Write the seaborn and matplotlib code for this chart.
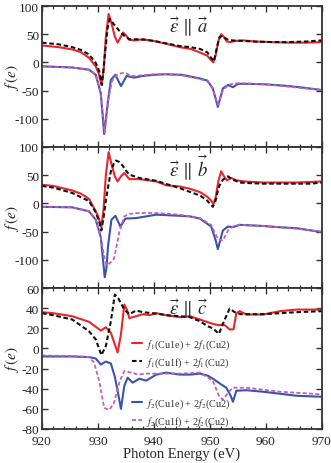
import numpy as np
import pandas as pd
import matplotlib
matplotlib.use("Agg")
import matplotlib.pyplot as plt
from matplotlib.ticker import MultipleLocator
import seaborn as sns

# ---------------- data ----------------
# panel a
a_red_E = [920, 923, 925.4, 927, 928.4, 929.6, 930.2, 930.6, 931.0, 931.4, 931.9, 932.4, 933, 933.5, 934, 934.5, 935, 935.6, 936.5, 938, 940, 942.2, 944.6, 946.5, 948.1, 949.5, 950.2, 950.6, 951.0, 951.5, 952.0, 952.5, 953.0, 953.6, 954.5, 956, 958, 961, 964, 967, 970]
a_red = [30, 27, 23, 18, 8, -7, -22, -40, -15, 45, 86, 70, 46, 35, 44, 53, 48, 40, 39, 41, 38, 33, 27, 24, 18, 12, 4, 0, 12, 38, 50, 45, 37, 36, 38, 39, 37, 36, 35, 35, 36]
a_blk_E = [920, 923, 925.4, 927, 928.4, 929.6, 930.2, 930.7, 931.2, 931.7, 932.1, 932.8, 933.8, 934.7, 935.6, 937, 938.5, 940, 942, 944.6, 946.5, 948.2, 949.5, 950.2, 950.7, 951.2, 951.7, 952.2, 953, 954, 956, 958, 961, 964, 967, 970]
a_blk = [35, 32, 27, 22, 14, -1, -15, -40, 10, 60, 77, 68, 56, 47, 41, 41, 40, 38, 34, 29, 27, 24, 18, 8, 2, 25, 45, 47, 41, 39, 38, 37, 36, 36, 37, 39]
a_blu_E = [920, 925.4, 928.4, 929.6, 930.5, 931.1, 931.8, 932.3, 933.1, 934.1, 935.1, 936.5, 938, 940, 942, 945, 948, 949.5, 950.5, 951.4, 952.3, 953.2, 954.1, 955, 957, 960, 963, 966, 970]
a_blu = [-7, -9, -13, -22, -55, -127, -67, -31, -22, -42, -24, -27, -24, -22, -21, -22, -28, -32, -46, -79, -46, -40, -44, -38, -38, -39, -41, -44, -49]
a_pnk_E = [920, 925.4, 928.4, 929.6, 930.5, 931.2, 931.9, 932.5, 933.5, 934.7, 936, 938, 940, 942, 945, 948, 949.5, 950.5, 951.4, 952.3, 953.2, 954.5, 956, 960, 963, 966, 970]
a_pnk = [-7, -9, -13, -22, -55, -124, -62, -33, -21, -18, -24, -23, -21, -21, -23, -29, -33, -47, -75, -50, -40, -37, -37, -39, -42, -45, -49]

# panel b
b_red_E = [920, 922, 925.4, 927, 928.4, 929.6, 930.1, 930.6, 931.0, 931.4, 931.9, 932.4, 933.0, 933.5, 934.1, 934.7, 935.6, 937.4, 940.4, 942.2, 944.6, 946.4, 948.2, 949.5, 950.2, 950.6, 951.0, 951.5, 952.0, 952.5, 953.0, 953.8, 954.7, 956, 959.5, 962, 965.5, 968, 970]
b_red = [33, 31, 23, 17, 8, -14, -25, -42, -10, 50, 91, 70, 48, 39, 48, 54, 43, 43, 39, 32, 30, 26, 20, 12, 5, -1, 10, 40, 57, 48, 41, 45, 41, 39, 37, 37, 37, 38, 39]
b_blk_E = [920, 922, 925.4, 928.4, 929.6, 930.2, 930.6, 931.0, 931.4, 931.9, 932.3, 932.8, 933.2, 933.7, 934.4, 935.0, 935.6, 937.4, 940.4, 944.6, 948.2, 949.5, 950.5, 951.0, 951.6, 952.3, 953.2, 954.1, 955.3, 957, 959.5, 962, 965.5, 968, 970]
b_blk = [31, 28, 18.5, 4, -16, -32, -48, -25, 5, 35, 57, 70, 76, 74, 67, 58, 51, 45, 40, 27, 14, 5, -6, 5, 30, 42, 48, 42, 37, 36, 35, 35, 35, 35, 37]
b_blu_E = [920, 925.4, 928.4, 929.6, 930.5, 931.2, 931.5, 931.8, 932.4, 933.1, 934.0, 934.9, 936.8, 940.4, 944.6, 946.4, 948.2, 950.2, 951.0, 951.4, 952.3, 953.2, 954.1, 955.3, 959.5, 962, 965.5, 970]
b_blu = [-6, -7, -14, -29, -60, -131, -115, -75, -29, -22, -41, -27, -26, -20, -22, -23, -27, -41, -65, -81, -48, -41, -42, -38, -40, -42, -44, -51]
b_pnk_E = [920, 925.4, 928.4, 929.6, 930.5, 931.2, 931.6, 932.2, 932.9, 933.8, 934.7, 935.6, 937.4, 940.4, 944.6, 948.2, 950.2, 951.0, 951.5, 952.3, 953.2, 954.1, 955.3, 959.5, 962, 965.5, 970]
b_pnk = [-6, -7, -14, -29, -60, -100, -110, -105, -97, -51, -23, -18.5, -17, -17, -20, -26, -38, -55, -64, -66, -48, -41, -38, -40, -42, -45, -50]

# panel c
c_red_E = [920, 922, 925.4, 928.4, 930.5, 931.4, 932.3, 933.0, 933.5, 934.1, 934.7, 935.2, 935.6, 936.8, 938.0, 939.2, 940.4, 942.2, 944.6, 946.4, 948.2, 950.5, 951.6, 952.3, 952.9, 953.5, 954.2, 954.7, 955.3, 956.5, 959.5, 962.5, 965.5, 970]
c_red = [36, 35, 32, 26.4, 17.8, 21, 15.5, 4, -4, 14, 43.5, 38, 30, 32, 34, 33, 35, 33, 31, 32, 28.7, 24.4, 23, 24, 22, 18.8, 19, 35, 37, 33.7, 33.7, 37, 38.6, 38.6]
c_blk_E = [920, 922, 925.4, 928.4, 929.6, 930.6, 931.4, 932.3, 933.0, 933.6, 934.7, 935.6, 936.8, 938, 940.4, 942.2, 944.6, 946.4, 948.2, 949.6, 950.5, 951.6, 952.5, 953.5, 954.4, 955.5, 957, 959.5, 962.5, 965.5, 970]
c_blk = [35, 33, 28.7, 17, 9, -6.6, 2.3, 27, 53.5, 50, 38.6, 34, 37.6, 36, 34.6, 33, 32, 31, 27, 22, 20, 14.5, 27, 39.6, 36, 34, 34, 34, 35, 36, 37]
c_blu_E = [920, 925.4, 928.4, 929.6, 930.5, 931.4, 932.3, 933.0, 933.5, 934.1, 934.7, 935.3, 936.2, 937.4, 938.6, 940.4, 942.2, 944.6, 946.4, 948.2, 949.6, 950.5, 951.8, 952.9, 953.7, 954.1, 954.7, 956.5, 959.5, 962.5, 965.5, 970]
c_blu = [-8, -8, -8.6, -10, -16, -13, -15, -28, -42, -60, -37, -29, -34, -30, -32, -26, -24, -26, -26, -25, -27, -30, -35, -39, -47, -53, -42, -41.5, -43, -45, -47, -48]
c_pnk_E = [920, 925.4, 928.4, 929.3, 930.2, 931.1, 932.0, 932.8, 933.9, 934.7, 935.9, 937.1, 938.6, 940.4, 944.6, 948.2, 950.5, 951.6, 952.3, 953.2, 954.1, 956.5, 959.5, 962.5, 965.5, 970]
c_pnk = [-7, -7.5, -8.6, -14, -32, -59, -61, -55, -32, -22.5, -24, -26, -25, -25, -25, -24, -32, -47, -51, -44, -39, -39, -41, -43, -44, -45.6]

titles = [r"$\vec{\epsilon}\,\parallel\,\vec{a}$", r"$\vec{\epsilon}\,\parallel\,\vec{b}$", r"$\vec{\epsilon}\,\parallel\,\vec{c}$"]
labels = [r"$f_1$(Cu1e) + 2$f_1$(Cu2)", r"$f_1$(Cu1f) + 2$f_1$(Cu2)",
          r"$f_2$(Cu1e) + 2$f_2$(Cu2)", r"$f_2$(Cu1f) + 2$f_2$(Cu2)"]
ylims = [(-150, 100), (-150, 100), (-80, 60)]
yticks = [[-100, -50, 0, 50, 100], [-100, -50, 0, 50, 100], [-80, -60, -40, -20, 0, 20, 40, 60]]

panels = [
    [(a_red_E, a_red), (a_blk_E, a_blk), (a_blu_E, a_blu), (a_pnk_E, a_pnk)],
    [(b_red_E, b_red), (b_blk_E, b_blk), (b_blu_E, b_blu), (b_pnk_E, b_pnk)],
    [(c_red_E, c_red), (c_blk_E, c_blk), (c_blu_E, c_blu), (c_pnk_E, c_pnk)],
]

# ---------------- style ----------------
sns.set_style("ticks")
plt.rcParams.update({
    "font.family": ["Liberation Serif", "DejaVu Serif"],
    "mathtext.fontset": "stix",
    "axes.unicode_minus": False,
    "xtick.direction": "in", "ytick.direction": "in",
    "xtick.top": True, "ytick.right": True,
    "axes.edgecolor": "#333333", "axes.linewidth": 1.3,
    "xtick.color": "#333333", "ytick.color": "#333333",
    "xtick.labelcolor": "#222222", "ytick.labelcolor": "#222222",
})

colors = ["#e8262b", "#111111", "#3a55a8", "#c85cb8"]
styles = ["-", (0, (2.2, 1.3)), "-", (0, (2.2, 1.3))]
widths = [1.5, 1.5, 1.5, 1.3]

fig = plt.figure(figsize=(3.31, 4.64), dpi=100)
L, R = 42 / 331, 322 / 331
top_px, bot_px = 7, 430
h = (bot_px - top_px) / 3
axes = []
for i in range(3):
    y0 = 1 - (top_px + (i + 1) * h) / 464
    ax = fig.add_axes([L, y0, R - L, h / 464])
    axes.append(ax)

for i, ax in enumerate(axes):
    for j, (E, v) in enumerate(panels[i]):
        df = pd.DataFrame({"E": E, "f": v})
        sns.lineplot(data=df, x="E", y="f", ax=ax, color=colors[j], linewidth=widths[j],
                     linestyle=styles[j] if isinstance(styles[j], str) else "-",
                     label=labels[j])
        line = ax.lines[-1]
        if not isinstance(styles[j], str):
            line.set_dashes(styles[j][1])
    leg = ax.get_legend()
    if leg is not None:
        leg.remove()
    ax.set_xlim(920, 970)
    ax.set_ylim(*ylims[i])
    ax.set_yticks(yticks[i])
    ax.xaxis.set_major_locator(MultipleLocator(10))
    ax.xaxis.set_minor_locator(MultipleLocator(2))
    ax.tick_params(which="major", length=4.5, width=1.0, labelsize=9.5, pad=2)
    ax.tick_params(which="minor", length=2.5, width=0.9)
    ax.tick_params(axis="x", pad=4)
    ax.set_ylabel(r"$f\,(e)$", fontsize=11, labelpad=0)
    ax.yaxis.set_label_coords(-0.075, 0.5)
    ax.set_xlabel("")
    if i < 2:
        ax.tick_params(labelbottom=False)
    ax.text(0.525, 0.86, titles[i], transform=ax.transAxes, ha="center", va="center",
            fontsize=13.5)

axes[2].set_xlabel("Photon Energy (eV)", fontsize=10.5, labelpad=0)

ax = axes[2]
hs = ax.get_lines()
kw = dict(loc="upper left", frameon=False, fontsize=7.3, handlelength=1.0,
          handletextpad=0.45, labelspacing=0.45, borderpad=0, borderaxespad=0)
leg1 = ax.legend(hs[0:2], labels[0:2], bbox_to_anchor=(0.32, 0.65), **kw)
ax.add_artist(leg1)
leg2 = ax.legend(hs[2:4], labels[2:4], bbox_to_anchor=(0.32, 0.23), **kw)
for lg in (leg1, leg2):
    for t in lg.get_texts():
        t.set_color("#333333")

fig.savefig("out.png", dpi=100)
